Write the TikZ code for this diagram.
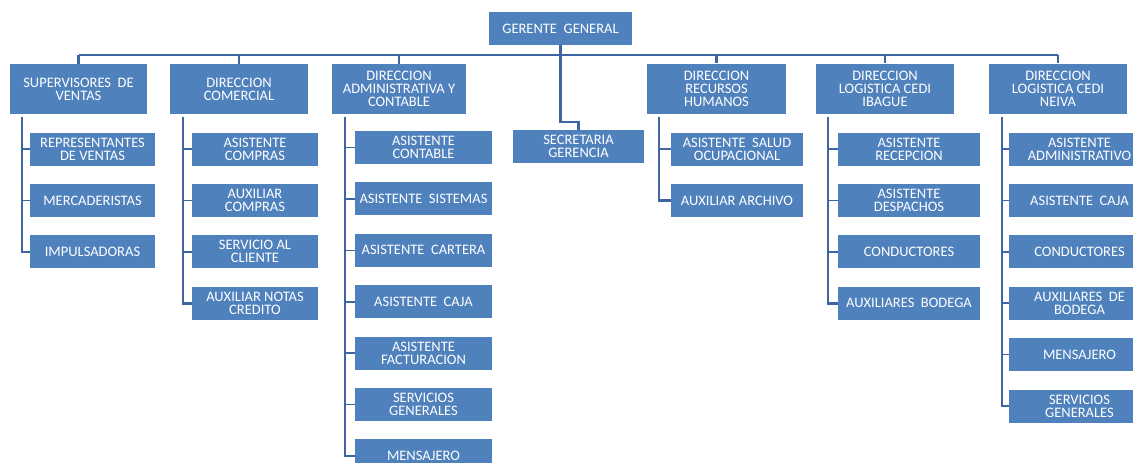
\documentclass[tikz,border=0pt]{standalone}
\usepackage{fontspec}
\setmainfont{Carlito}
\usetikzlibrary{positioning}
\definecolor{cajaazul}{HTML}{4F81BD}
\definecolor{lineaazul}{HTML}{3E66A3}
\tikzset{
    %Define style for boxes
    cargo/.style={
           rectangle,
           fill=cajaazul,
           text=white,
           inner sep=1pt,
           align=center,
           font=\fontsize{14.5}{13}\selectfont},
    jefe/.style={cargo, minimum height=50pt, minimum width=138pt},
    sub/.style={cargo, minimum height=33pt, minimum width=#1},
    sub/.default=130pt,
    % Define line styles
    linea/.style={draw=lineaazul, line width=2.6pt},
    tick/.style={draw=lineaazul, line width=1.6pt}
}

\begin{document}
\begin{tikzpicture}[x=1pt,y=-1pt,node distance=18pt]
\useasboundingbox (0,0) rectangle (1133,463);
\node[cargo, minimum width=143pt, minimum height=33pt] (gg) at (560.5,28.5) {GERENTE~ GENERAL};

% direcciones
\node[jefe, minimum width=137pt] (sup) at (78.5,89) {SUPERVISORES~ DE\\VENTAS};
\node[jefe] (com) at (239,89) {DIRECCION\\COMERCIAL};
\node[jefe, minimum width=134pt] (adm) at (399,89) {DIRECCION\\ADMINISTRATIVA Y\\CONTABLE};
\node[sub=131pt] (sec) at (578.5,146.5) {SECRETARIA\\GERENCIA};
\node[jefe, minimum width=139pt] (rh) at (716.5,88.5) {DIRECCION\\RECURSOS\\HUMANOS};
\node[jefe] (iba) at (885,88.5) {DIRECCION\\LOGISTICA CEDI\\IBAGUE};
\node[jefe] (nei) at (1058,88.5) {DIRECCION\\LOGISTICA CEDI\\NEIVA};

% supervisores
\node[sub=125pt] (rep) at (92.5,149) {REPRESENTANTES\\DE VENTAS};
\node[sub=125pt, below=of rep] (mer) {MERCADERISTAS};
\node[sub=125pt, below=of mer] (imp) {IMPULSADORAS};

% comercial
\node[sub=126pt] (acom) at (255,149) {ASISTENTE\\COMPRAS};
\node[sub=126pt, below=of acom] (auxcom) {AUXILIAR\\COMPRAS};
\node[sub=126pt, below=of auxcom] (serv) {SERVICIO AL\\CLIENTE};
\node[sub=126pt, below=of serv] (notas) {AUXILIAR NOTAS\\CREDITO};

% administrativa
\node[sub=137pt] (acont) at (423.5,147.5) {ASISTENTE\\CONTABLE};
\node[sub=137pt, below=of acont] (asis) {ASISTENTE~ SISTEMAS};
\node[sub=137pt, below=of asis] (acar) {ASISTENTE~ CARTERA};
\node[sub=137pt, below=of acar] (acaja) {ASISTENTE~ CAJA};
\node[sub=137pt, below=of acaja] (afac) {ASISTENTE\\FACTURACION};
\node[sub=137pt, below=of afac] (sgen) {SERVICIOS\\GENERALES};
\node[sub=137pt, below=of sgen] (mens) {MENSAJERO};

% recursos humanos
\node[sub=132pt] (salud) at (737,149) {ASISTENTE~ SALUD\\OCUPACIONAL};
\node[sub=132pt, below=of salud] (arch) {AUXILIAR ARCHIVO};

% cedi ibague
\node[sub=142pt] (recep) at (909,149) {ASISTENTE\\RECEPCION};
\node[sub=142pt, below=of recep] (desp) {ASISTENTE\\DESPACHOS};
\node[sub=142pt, below=of desp] (cond) {CONDUCTORES};
\node[sub=142pt, below=of cond] (bod) {AUXILIARES~ BODEGA};

% cedi neiva
\node[sub=141pt] (nadm) at (1079.5,149) {ASISTENTE\\ADMINISTRATIVO};
\node[sub=141pt, below=of nadm] (ncaja) {ASISTENTE~ CAJA};
\node[sub=141pt, below=of ncaja] (ncond) {CONDUCTORES};
\node[sub=141pt, below=of ncond] (nbod) {AUXILIARES~ DE\\BODEGA};
\node[sub=141pt, below=of nbod] (nmens) {MENSAJERO};
\node[sub=141pt, below=of nmens] (nsgen) {SERVICIOS\\GENERALES};

% lineas
\coordinate (bus) at (0,55);
\draw[linea] (sup.north |- bus) -- (nei.north |- bus);
\foreach \n in {sup,com,adm,rh,iba,nei}
    \draw[linea] (\n.north |- bus) -- (\n.north);
\draw[linea] (gg.south) |- ([yshift=8pt]sec.north) -- (sec.north);

\coordinate (supv) at (22,117);
\coordinate (comv) at (183,117);
\coordinate (admv) at (345,117);
\coordinate (rhv) at (659,117);
\coordinate (ibav) at (828,117);
\coordinate (neiv) at (1002,117);
\foreach \v/\u in {supv/imp, comv/notas, admv/mens, rhv/arch, ibav/bod, neiv/nsgen}
    \draw[linea] (\v) |- (\u.west);
\foreach \c/\v in {rep/supv, mer/supv, acom/comv, auxcom/comv, serv/comv,
        acont/admv, asis/admv, acar/admv, acaja/admv, afac/admv, sgen/admv,
        salud/rhv, recep/ibav, desp/ibav, cond/ibav,
        nadm/neiv, ncaja/neiv, ncond/neiv, nbod/neiv, nmens/neiv}
    \draw[tick] (\c.west -| \v) -- (\c.west);
\end{tikzpicture}
\end{document}
